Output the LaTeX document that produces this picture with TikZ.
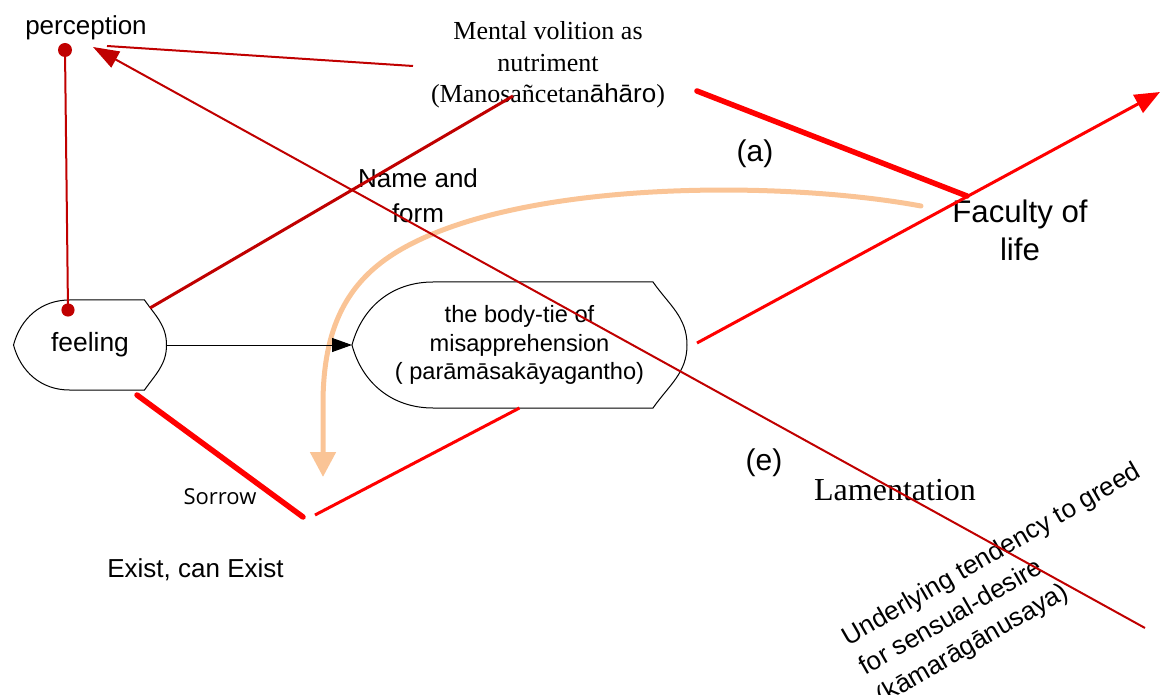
\documentclass[tikz,border=0pt]{standalone}
\usepackage{fontspec}
\setmainfont{Liberation Serif}
\setsansfont{Liberation Sans}
\newfontfamily\opensans{Open Sans}
\usepackage{tikz}
\usetikzlibrary{arrows.meta, calc}
\definecolor{DarkRed}{RGB}{192,0,0}
\definecolor{BrightRed}{RGB}{255,0,0}
\definecolor{Peach}{RGB}{250,196,150}

% outline of a tie node: node name, left inset, right inset
\newcommand{\tieoutline}[3]{%
  \draw[outline] ($(#1.north west)+(#2,0)$) -- ($(#1.north east)+(-#3,0)$)
    to[out=-55,in=90] (#1.east) to[out=-90,in=55] ($(#1.south east)+(-#3,0)$)
    -- ($(#1.south west)+(#2,0)$) to[out=180,in=-75] (#1.west)
    to[out=75,in=180] cycle;}

\begin{document}
\begin{tikzpicture}[x=0.5pt, y=0.5pt,
  tie/.style={rectangle, draw=none, inner sep=0pt, outer sep=0pt, align=center},
  outline/.style={draw=black, line width=0.5pt},
  sans/.style={font=\sffamily\fontsize{13}{16}\selectfont, align=center, inner sep=0pt},
  serif/.style={font=\rmfamily\fontsize{13}{15.75}\selectfont, align=center, inner sep=0pt},
  darkline/.style={DarkRed, line width=1pt},
  volline/.style={DarkRed, line width=1.5pt},
  heavyline/.style={BrightRed, line width=2.75pt, line cap=round},
  redline/.style={BrightRed, line width=1.5pt},
  flow/.style={-{Triangle[length=10pt,width=7pt]}, line width=0.5pt},
  backflow/.style={Peach, line width=2.5pt, line cap=round, -{Triangle[length=12.5pt,width=12.5pt]}}
]
\useasboundingbox (0,0) rectangle (1162,-695);

% shapes
\node[tie, minimum width=76.5pt, minimum height=45pt, font=\sffamily\fontsize{13.2}{16}\selectfont] (feeling) at (90,-345) {feeling};
\tieoutline{feeling}{56}{22}
\node[tie, minimum width=167.5pt, minimum height=63pt, font=\sffamily\fontsize{11.8}{14.25}\selectfont] (bodytie) at (519.5,-345) {the body-tie of\\misapprehension\\( parāmāsakāyagantho)};
\tieoutline{bodytie}{81}{34}

% labels
\node[sans, anchor=base] (perception) at (86,-35) {perception};
\node[serif] (volition) at (548,-65) {Mental volition as\\nutriment\\(Manosañcetan{\sffamily āhāro})};
\node[sans, font=\sffamily\fontsize{13}{17.5}\selectfont] (nameform) at (418,-196) {Name and\\form};
\node[sans, font=\sffamily\fontsize{15.6}{19}\selectfont] (faculty) at (1020,-230) {Faculty of\\life};
\node[sans, font=\sffamily\fontsize{15}{18}\selectfont, anchor=base] (labela) at (755,-162) {(a)};
\node[sans, font=\sffamily\fontsize{15}{18}\selectfont, anchor=base] (labele) at (764,-470) {(e)};
\node[serif, font=\rmfamily\fontsize{16}{19}\selectfont, anchor=base] (lament) at (895,-500) {Lamentation};
\node[font=\opensans\fontsize{11}{13}\selectfont, anchor=base, inner sep=0pt] (sorrow) at (220,-504) {Sorrow};
\node[sans, anchor=base] (exist) at (195.5,-577) {Exist, can Exist};
\node[sans, font=\sffamily\fontsize{13}{17}\selectfont, align=left, rotate=30] (greed) at (1009,-585) {Underlying tendency to greed\\for sensual-desire\\(kāmarāgānusaya)};

% connector ends
\coordinate (percdot) at (65,-50);
\coordinate (percin) at (107,-46);
\coordinate (perctip) at (93,-47);
\coordinate (feeldot) at (68,-310);
\coordinate (feelout) at (150,-308);
\coordinate (feeldown) at (137,-395);
\coordinate (volin) at (513,-96);
\coordinate (volout) at (413,-66);
\coordinate (volright) at (697,-91);
\coordinate (faccorner) at (967,-196);
\coordinate (facback) at (921,-206);
\coordinate (lifetip) at (1160,-92);
\coordinate (tieout) at (697,-343);
\coordinate (sorrowv) at (303,-517);
\coordinate (sorrowr) at (315,-515);
\coordinate (greedend) at (1145,-628);
\coordinate (backtip) at (323,-477);

% back arrow from faculty of life
\draw[backflow] (facback) .. controls (780,-180) and (520,-180) .. (400,-250)
  .. controls (345,-282) and (324,-330) .. (323,-400) -- (backtip);

\draw[darkline] (percdot) -- (feeldot);
\fill[DarkRed] (percdot) circle (3.5pt);
\fill[DarkRed] (feeldot) circle (3.3pt);
\draw[darkline] (volout) -- (percin);
\draw[darkline, -{Triangle[length=13pt,width=9pt]}] (greedend) -- (perctip);
\draw[volline] (feelout) -- (volin);
\draw[heavyline] (volright) -- (faccorner);
\draw[redline, -{Triangle[length=12.5pt,width=10pt]}] (tieout) -- (lifetip);
\draw[heavyline] (feeldown) -- (sorrowv);
\draw[redline] (sorrowr) -- (bodytie.south);
\draw[flow] (feeling.east) -- (bodytie.west);

\end{tikzpicture}
\end{document}
